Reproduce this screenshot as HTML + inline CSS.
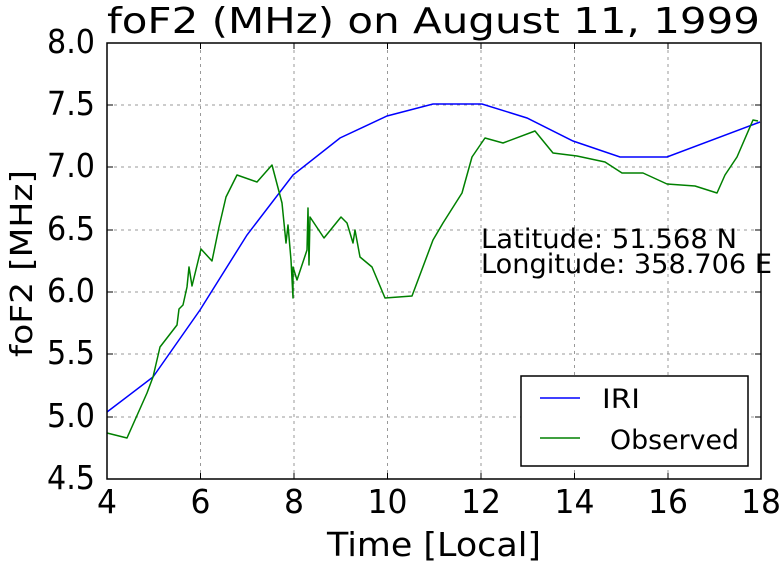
<!DOCTYPE html>
<html><head><style>body{margin:0;background:#fff}</style></head><body>
<svg width="781" height="567" viewBox="0 0 781 567" xmlns="http://www.w3.org/2000/svg" font-family="DejaVu Sans, sans-serif">
<rect width="781" height="567" fill="#fff"/>
<g stroke="#999" stroke-width="1" stroke-dasharray="3,4">
<line x1="200.5" y1="43" x2="200.5" y2="479"/><line x1="294" y1="43" x2="294" y2="479"/><line x1="387.5" y1="43" x2="387.5" y2="479"/><line x1="481" y1="43" x2="481" y2="479"/><line x1="574.5" y1="43" x2="574.5" y2="479"/><line x1="668" y1="43" x2="668" y2="479"/>
<line x1="107" y1="105" x2="761" y2="105"/><line x1="107" y1="167" x2="761" y2="167"/><line x1="107" y1="230" x2="761" y2="230"/><line x1="107" y1="292" x2="761" y2="292"/><line x1="107" y1="354" x2="761" y2="354"/><line x1="107" y1="417" x2="761" y2="417"/>
</g>
<polyline fill="none" stroke="#0000ff" stroke-width="1.5" points="107,412 153,377 200,310 247,235 293,175 340,138 387,116 433,104 482,104 527,118 573,141 620,157 667,157 760,122"/>
<polyline fill="none" stroke="#008000" stroke-width="1.5" stroke-linejoin="round" points="107,433 127,438 147,393 153,377 160,347 177,325 179,309 183,305 187,287 189,267 192,286 201,249 212,261 219,227 226,197 237,175 257,182 272,165 282,203 286,243 288,225 291,260 293,298 293,267 297,280 307,250 308,208 309,265 310,217 324,238 341,217 347,223 353,243 355,230 360,257 372,267 385,298 412,296 433,240 443,223 462,193 472,157 485,138 503,143 535,131 553,153 577,156 605,162 622,173 643,173 667,184 695,186 717,193 725,175 737,157 753,120 758,121"/>
<rect x="107" y="43" width="654" height="436" fill="none" stroke="#000" stroke-width="1.5"/>
<g stroke="#000" stroke-width="1">
<line x1="200.5" y1="479" x2="200.5" y2="473"/><line x1="294" y1="479" x2="294" y2="473"/><line x1="387.5" y1="479" x2="387.5" y2="473"/><line x1="481" y1="479" x2="481" y2="473"/><line x1="574.5" y1="479" x2="574.5" y2="473"/><line x1="668" y1="479" x2="668" y2="473"/>
<line x1="200.5" y1="43" x2="200.5" y2="49"/><line x1="294" y1="43" x2="294" y2="49"/><line x1="387.5" y1="43" x2="387.5" y2="49"/><line x1="481" y1="43" x2="481" y2="49"/><line x1="574.5" y1="43" x2="574.5" y2="49"/><line x1="668" y1="43" x2="668" y2="49"/>
<line x1="107" y1="105" x2="113" y2="105"/><line x1="107" y1="167" x2="113" y2="167"/><line x1="107" y1="230" x2="113" y2="230"/><line x1="107" y1="292" x2="113" y2="292"/><line x1="107" y1="354" x2="113" y2="354"/><line x1="107" y1="417" x2="113" y2="417"/>
<line x1="761" y1="105" x2="755" y2="105"/><line x1="761" y1="167" x2="755" y2="167"/><line x1="761" y1="230" x2="755" y2="230"/><line x1="761" y1="292" x2="755" y2="292"/><line x1="761" y1="354" x2="755" y2="354"/><line x1="761" y1="417" x2="755" y2="417"/>
</g>
<g font-size="33" fill="#000" lengthAdjust="spacingAndGlyphs">
<text x="47" y="53" textLength="48" lengthAdjust="spacingAndGlyphs">8.0</text>
<text x="47" y="115" textLength="48" lengthAdjust="spacingAndGlyphs">7.5</text>
<text x="47" y="177" textLength="48" lengthAdjust="spacingAndGlyphs">7.0</text>
<text x="47" y="240" textLength="48" lengthAdjust="spacingAndGlyphs">6.5</text>
<text x="47" y="302" textLength="48" lengthAdjust="spacingAndGlyphs">6.0</text>
<text x="47" y="364" textLength="48" lengthAdjust="spacingAndGlyphs">5.5</text>
<text x="47" y="427" textLength="48" lengthAdjust="spacingAndGlyphs">5.0</text>
<text x="47" y="489" textLength="48" lengthAdjust="spacingAndGlyphs">4.5</text>
</g>
<g font-size="33" fill="#000">
<text x="97" y="513" textLength="20" lengthAdjust="spacingAndGlyphs">4</text>
<text x="190.5" y="513" textLength="20" lengthAdjust="spacingAndGlyphs">6</text>
<text x="284" y="513" textLength="20" lengthAdjust="spacingAndGlyphs">8</text>
<text x="367.5" y="513" textLength="40" lengthAdjust="spacingAndGlyphs">10</text>
<text x="461" y="513" textLength="40" lengthAdjust="spacingAndGlyphs">12</text>
<text x="554.5" y="513" textLength="40" lengthAdjust="spacingAndGlyphs">14</text>
<text x="648" y="513" textLength="40" lengthAdjust="spacingAndGlyphs">16</text>
<text x="741" y="513" textLength="40" lengthAdjust="spacingAndGlyphs">18</text>
</g>
<text x="327" y="556" font-size="33" textLength="214" lengthAdjust="spacingAndGlyphs">Time [Local]</text>
<text x="107" y="33" font-size="36" textLength="653" lengthAdjust="spacingAndGlyphs">foF2 (MHz) on August 11, 1999</text>
<text transform="translate(32,357) rotate(-90)" font-size="30" textLength="187" lengthAdjust="spacingAndGlyphs">foF2 [MHz]</text>
<text x="481" y="248" font-size="27" textLength="256" lengthAdjust="spacingAndGlyphs">Latitude: 51.568 N</text>
<text x="481" y="273" font-size="27" textLength="291" lengthAdjust="spacingAndGlyphs">Longitude: 358.706 E</text>
<rect x="521" y="376" width="227" height="90" fill="#fff" stroke="#000" stroke-width="1.5"/>
<line x1="540" y1="398" x2="580" y2="398" stroke="#0000ff" stroke-width="1.5"/>
<line x1="540" y1="438" x2="580" y2="438" stroke="#008000" stroke-width="1.5"/>
<text x="602" y="408" font-size="27" textLength="38" lengthAdjust="spacingAndGlyphs">IRI</text>
<text x="610" y="449" font-size="27" textLength="129" lengthAdjust="spacingAndGlyphs">Observed</text>
</svg>
</body></html>
